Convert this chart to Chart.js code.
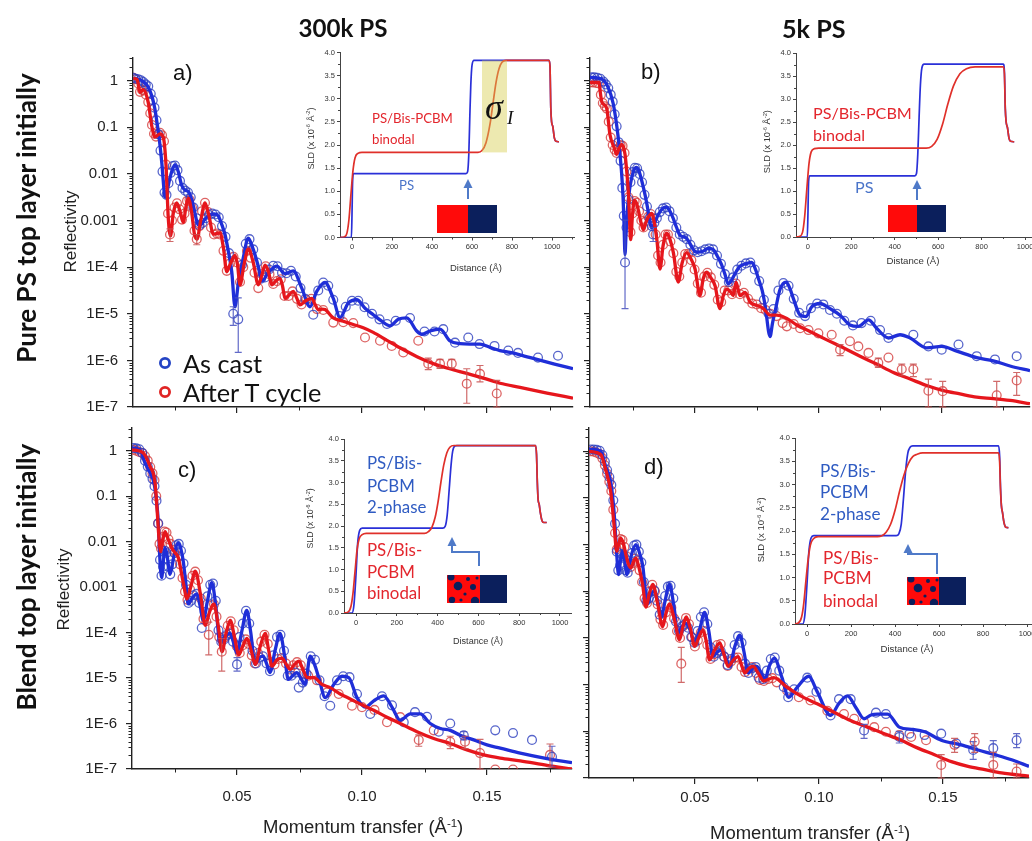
<!DOCTYPE html>
<html><head><meta charset="utf-8">
<script src="https://cdn.jsdelivr.net/npm/chart.js@4.4.1/dist/chart.umd.min.js"></script>
<style>
html,body{margin:0;padding:0;width:1032px;height:841px;overflow:hidden;background:#fff;}
canvas{position:absolute;}
.t{position:absolute;white-space:nowrap;line-height:1;z-index:5;}
.t sup{font-size:0.62em;vertical-align:0.55em;line-height:0;}
</style></head><body>
<svg id="deco" width="1032" height="841" style="position:absolute;left:0;top:0;z-index:4">
 <defs>
  <clipPath id="clipC"><rect x="447" y="575" width="33" height="28"/></clipPath>
  <clipPath id="clipD"><rect x="907" y="577" width="32" height="28"/></clipPath>
 </defs>
 <circle cx="165" cy="363" r="4.6" fill="none" stroke="#2444c4" stroke-width="2.8"/>
 <circle cx="165" cy="392" r="4.6" fill="none" stroke="#e02424" stroke-width="2.8"/>
 <line x1="468" y1="199" x2="468" y2="187" stroke="#4f7ac8" stroke-width="2"/>
 <polygon points="468,179 463.5,188 472.5,188" fill="#4f7ac8"/>
 <rect x="437" y="205" width="31" height="28" fill="#ff0a0a"/>
 <rect x="468" y="205" width="29" height="28" fill="#0b1f5c"/>
 <line x1="917" y1="200" x2="917" y2="188" stroke="#4f7ac8" stroke-width="2"/>
 <polygon points="917,180 912.5,189 921.5,189" fill="#4f7ac8"/>
 <rect x="888" y="205" width="29" height="27" fill="#ff0a0a"/>
 <rect x="917" y="205" width="29" height="27" fill="#0b1f5c"/>
 <polyline points="479,566 479,552 452,552 452,545" fill="none" stroke="#4f7ac8" stroke-width="2"/>
 <polygon points="452,537 447.5,546 456.5,546" fill="#4f7ac8"/>
 <rect x="447" y="575" width="33" height="28" fill="#ff0a0a"/>
 <rect x="480" y="575" width="27" height="28" fill="#0b1f5c"/>
 <g clip-path="url(#clipC)" fill="#0b1f5c">
  <circle cx="451" cy="577" r="3.5"/><circle cx="458" cy="586" r="4.3"/><circle cx="468" cy="579" r="2"/>
  <circle cx="473" cy="587" r="3"/><circle cx="465" cy="594" r="1.6"/><circle cx="477" cy="578" r="1.5"/>
  <circle cx="452" cy="600" r="3.2"/><circle cx="475" cy="601" r="4.2"/><circle cx="461" cy="600" r="1.6"/>
 </g>
 <polyline points="937,574 937,554 908,554 908,552" fill="none" stroke="#4f7ac8" stroke-width="2"/>
 <polygon points="908,544 903.5,553 912.5,553" fill="#4f7ac8"/>
 <rect x="907" y="577" width="32" height="28" fill="#ff0a0a"/>
 <rect x="939" y="577" width="27" height="28" fill="#0b1f5c"/>
 <g clip-path="url(#clipD)" fill="#0b1f5c">
  <circle cx="911" cy="579" r="3.5"/><circle cx="918" cy="588" r="4.3"/><circle cx="928" cy="581" r="2"/>
  <circle cx="933" cy="589" r="3"/><circle cx="925" cy="596" r="1.6"/><circle cx="937" cy="580" r="1.5"/>
  <circle cx="912" cy="602" r="3.2"/><circle cx="934" cy="603" r="4.2"/><circle cx="921" cy="602" r="1.6"/>
 </g>
</svg>
<script>
// ===================== DATA =====================
// Reflectivity curves: [Q (1/Angstrom), log10(Reflectivity)]
const aBlueFit = [[0.0085,0.05],[0.0110,0.02],[0.0125,-0.02],[0.0140,-0.10],[0.0152,-0.22],[0.0163,-0.40],[0.0172,-0.62],[0.0180,-0.90],[0.0189,-1.25],[0.0199,-1.75],[0.0205,-2.15],[0.0210,-2.45],[0.0216,-2.50],[0.0225,-2.25],[0.0239,-1.95],[0.0252,-1.80],[0.0265,-1.95],[0.0279,-2.25],[0.0292,-2.35],[0.0305,-2.38],[0.0319,-2.55],[0.0332,-2.85],[0.0345,-3.10],[0.0358,-3.08],[0.0372,-2.97],[0.0390,-2.88],[0.0410,-2.86],[0.0425,-2.90],[0.0440,-3.10],[0.0452,-3.30],[0.0465,-3.65],[0.0479,-4.10],[0.0492,-4.85],[0.0505,-4.35],[0.0525,-3.80],[0.0545,-3.38],[0.0565,-3.62],[0.0585,-3.98],[0.0600,-4.30],[0.0625,-4.12],[0.0659,-3.98],[0.0692,-4.14],[0.0725,-4.08],[0.0759,-4.45],[0.0792,-4.85],[0.0819,-4.52],[0.0852,-4.33],[0.0885,-4.67],[0.0912,-5.08],[0.0945,-4.77],[0.0979,-4.70],[0.1012,-4.88],[0.1045,-5.02],[0.1079,-5.16],[0.1112,-5.26],[0.1145,-5.12],[0.1179,-5.09],[0.1219,-5.37],[0.1239,-5.44],[0.1272,-5.37],[0.1312,-5.33],[0.1352,-5.58],[0.1392,-5.64],[0.1432,-5.65],[0.1472,-5.65],[0.1512,-5.72],[0.1552,-5.79],[0.1592,-5.83],[0.1632,-5.88],[0.1700,-5.98],[0.1770,-6.08],[0.1844,-6.18]];
const aRedFit = [[0.0085,0.05],[0.0100,0.03],[0.0112,-0.25],[0.0125,-0.19],[0.0145,-0.47],[0.0159,-0.97],[0.0172,-1.21],[0.0192,-1.14],[0.0205,-1.21],[0.0216,-1.81],[0.0225,-2.94],[0.0234,-3.33],[0.0245,-2.85],[0.0259,-2.62],[0.0272,-2.80],[0.0285,-3.04],[0.0296,-2.70],[0.0305,-2.52],[0.0318,-2.80],[0.0330,-3.30],[0.0340,-3.40],[0.0355,-3.00],[0.0372,-2.62],[0.0388,-2.90],[0.0405,-3.29],[0.0420,-3.28],[0.0432,-3.26],[0.0446,-3.60],[0.0459,-4.10],[0.0475,-3.90],[0.0492,-3.75],[0.0502,-3.95],[0.0512,-4.38],[0.0528,-3.95],[0.0545,-3.61],[0.0565,-3.90],[0.0585,-4.38],[0.0598,-4.20],[0.0612,-3.96],[0.0626,-4.10],[0.0639,-4.38],[0.0655,-4.30],[0.0672,-4.24],[0.0682,-4.40],[0.0692,-4.67],[0.0708,-4.60],[0.0725,-4.52],[0.0738,-4.65],[0.0752,-4.81],[0.0775,-4.72],[0.0799,-4.67],[0.0812,-4.80],[0.0825,-4.91],[0.0840,-4.90],[0.0852,-4.91],[0.0885,-5.09],[0.0925,-5.16],[0.0965,-5.23],[0.1005,-5.30],[0.1045,-5.40],[0.1100,-5.57],[0.1152,-5.73],[0.1220,-5.92],[0.1285,-6.07],[0.1350,-6.18],[0.1419,-6.28],[0.1485,-6.38],[0.1552,-6.49],[0.1632,-6.58],[0.1740,-6.70],[0.1844,-6.81]];
const aBlueMeas = [[0.0085,0.06],[0.0095,0.04],[0.0105,0.03],[0.0115,0.01],[0.0125,-0.03],[0.0135,-0.08],[0.0145,-0.12],[0.0155,-0.28],[0.0163,-0.42],[0.0170,-0.58],[0.0178,-0.85],[0.0186,-1.15],[0.0194,-1.50],[0.0202,-1.95],[0.0210,-2.40],[0.0218,-2.45],[0.0226,-2.20],[0.0234,-1.98],[0.0243,-1.83],[0.0252,-1.82],[0.0262,-1.92],[0.0272,-2.15],[0.0282,-2.30],[0.0293,-2.36],[0.0304,-2.40],[0.0315,-2.50],[0.0326,-2.72],[0.0338,-2.95],[0.0350,-3.10],[0.0362,-3.05],[0.0375,-2.95],[0.0388,-2.88],[0.0401,-2.85],[0.0414,-2.87],[0.0427,-2.93],[0.0440,-3.12],[0.0454,-3.35],[0.0468,-3.70],[0.0485,-5.00],[0.0505,-5.12],[0.0520,-3.95],[0.0535,-3.50],[0.0550,-3.40],[0.0565,-3.62],[0.0580,-3.90],[0.0596,-4.25],[0.0612,-4.22],[0.0628,-4.05],[0.0645,-3.97],[0.0662,-3.98],[0.0680,-4.12],[0.0698,-4.13],[0.0716,-4.08],[0.0735,-4.20],[0.0754,-4.45],[0.0773,-4.68],[0.0805,-5.02],[0.0825,-4.50],[0.0845,-4.33],[0.0865,-4.40],[0.0885,-4.70],[0.0910,-5.05],[0.0935,-4.85],[0.0960,-4.72],[0.0985,-4.72],[0.1010,-4.86],[0.1040,-5.00],[0.1070,-5.12],[0.1100,-5.22],[0.1135,-5.15],[0.1192,-5.09],[0.1250,-5.38],[0.1290,-5.38],[0.1325,-5.33],[0.1372,-5.62],[0.1425,-5.51],[0.1470,-5.65],[0.1530,-5.69],[0.1585,-5.79],[0.1624,-5.84],[0.1704,-5.94],[0.1784,-5.90]];
const aRedMeas = [[0.0085,0.06],[0.0095,0.03],[0.0105,-0.06],[0.0112,-0.24],[0.0120,-0.20],[0.0128,-0.21],[0.0136,-0.30],[0.0145,-0.46],[0.0153,-0.70],[0.0160,-0.95],[0.0168,-1.14],[0.0176,-1.20],[0.0184,-1.15],[0.0192,-1.12],[0.0200,-1.17],[0.0208,-1.30],[0.0216,-1.80],[0.0224,-2.85],[0.0232,-3.30],[0.0240,-3.00],[0.0250,-2.72],[0.0260,-2.63],[0.0270,-2.76],[0.0280,-2.98],[0.0290,-2.85],[0.0300,-2.58],[0.0310,-2.55],[0.0320,-2.72],[0.0330,-3.22],[0.0339,-3.40],[0.0350,-3.12],[0.0360,-2.80],[0.0372,-2.62],[0.0384,-2.82],[0.0396,-3.15],[0.0408,-3.30],[0.0420,-3.28],[0.0432,-3.30],[0.0446,-3.65],[0.0459,-4.08],[0.0472,-3.92],[0.0486,-3.78],[0.0500,-3.90],[0.0512,-4.32],[0.0525,-4.00],[0.0540,-3.65],[0.0555,-3.80],[0.0570,-4.12],[0.0585,-4.45],[0.0600,-4.15],[0.0615,-3.98],[0.0630,-4.15],[0.0645,-4.36],[0.0660,-4.30],[0.0675,-4.26],[0.0690,-4.62],[0.0706,-4.62],[0.0722,-4.52],[0.0740,-4.68],[0.0758,-4.80],[0.0777,-4.70],[0.0797,-4.68],[0.0820,-4.90],[0.0845,-4.92],[0.0885,-5.19],[0.0925,-5.18],[0.0965,-5.20],[0.1012,-5.51],[0.1072,-5.58],[0.1119,-5.69],[0.1165,-5.83],[0.1225,-5.58],[0.1265,-6.07],[0.1312,-6.07],[0.1359,-6.07],[0.1419,-6.50],[0.1472,-6.29],[0.1539,-6.71]];
// error bars: [Q, log10 lower, log10 upper]
const aBlueErr = [[0.0485,-5.25,-4.85],[0.0505,-5.83,-4.66]];
const aRedErr = [[0.0232,-3.45,-3.18],[0.0339,-3.52,-3.30],[0.1265,-6.20,-5.95],[0.1312,-6.17,-5.98],[0.1359,-6.17,-5.98],[0.1419,-6.92,-6.18],[0.1472,-6.46,-6.11],[0.1539,-7.00,-6.43]];

const bBlueFit = [[0.0074,0.07],[0.0120,0.04],[0.0147,-0.14],[0.0168,-0.49],[0.0188,-1.20],[0.0201,-1.90],[0.0208,-2.50],[0.0212,-3.09],[0.0216,-3.73],[0.0220,-3.30],[0.0226,-2.75],[0.0234,-2.35],[0.0242,-2.11],[0.0252,-1.92],[0.0262,-1.86],[0.0272,-1.93],[0.0282,-2.11],[0.0293,-2.35],[0.0303,-2.60],[0.0313,-2.90],[0.0323,-3.16],[0.0336,-3.05],[0.0350,-2.88],[0.0367,-2.75],[0.0384,-2.71],[0.0398,-2.80],[0.0411,-2.95],[0.0425,-3.15],[0.0438,-3.31],[0.0452,-3.35],[0.0465,-3.38],[0.0482,-3.52],[0.0499,-3.66],[0.0515,-3.68],[0.0532,-3.66],[0.0552,-3.60],[0.0573,-3.62],[0.0590,-3.76],[0.0607,-3.94],[0.0621,-4.15],[0.0634,-4.36],[0.0648,-4.28],[0.0661,-4.15],[0.0682,-3.98],[0.0705,-3.93],[0.0730,-3.90],[0.0745,-4.05],[0.0757,-4.25],[0.0772,-4.50],[0.0784,-4.82],[0.0804,-5.49],[0.0814,-5.20],[0.0824,-4.96],[0.0845,-4.47],[0.0869,-4.32],[0.0884,-4.45],[0.0899,-4.68],[0.0926,-5.03],[0.0950,-5.06],[0.0973,-4.85],[0.1007,-4.78],[0.1047,-4.89],[0.1088,-5.03],[0.1128,-5.24],[0.1162,-5.27],[0.1203,-5.13],[0.1236,-5.31],[0.1284,-5.52],[0.1331,-5.45],[0.1372,-5.52],[0.1439,-5.73],[0.1500,-5.70],[0.1561,-5.80],[0.1642,-5.94],[0.1709,-6.01],[0.1777,-6.12],[0.1858,-6.22]];
const bRedFit = [[0.0074,-0.04],[0.0110,-0.04],[0.0117,-0.30],[0.0122,-0.46],[0.0132,-0.52],[0.0142,-0.60],[0.0155,-1.16],[0.0172,-1.44],[0.0182,-1.58],[0.0192,-1.45],[0.0203,-1.37],[0.0216,-1.58],[0.0223,-1.95],[0.0230,-2.43],[0.0239,-3.41],[0.0246,-2.90],[0.0253,-2.57],[0.0262,-2.62],[0.0270,-2.78],[0.0281,-3.05],[0.0291,-3.20],[0.0300,-3.05],[0.0308,-2.95],[0.0324,-2.85],[0.0335,-3.05],[0.0345,-3.41],[0.0358,-4.04],[0.0370,-3.55],[0.0385,-3.27],[0.0398,-3.40],[0.0412,-3.69],[0.0432,-4.32],[0.0448,-3.90],[0.0466,-3.69],[0.0483,-3.82],[0.0500,-4.04],[0.0520,-4.61],[0.0533,-4.25],[0.0547,-4.11],[0.0563,-4.22],[0.0581,-4.40],[0.0601,-4.89],[0.0615,-4.60],[0.0628,-4.47],[0.0642,-4.52],[0.0655,-4.61],[0.0666,-4.32],[0.0682,-4.61],[0.0703,-4.54],[0.0723,-4.75],[0.0750,-4.82],[0.0777,-4.89],[0.0804,-5.03],[0.0831,-5.03],[0.0872,-5.10],[0.0912,-5.24],[0.0966,-5.38],[0.1034,-5.56],[0.1101,-5.73],[0.1169,-5.91],[0.1236,-6.08],[0.1304,-6.26],[0.1372,-6.40],[0.1439,-6.54],[0.1507,-6.65],[0.1574,-6.72],[0.1642,-6.79],[0.1709,-6.82],[0.1777,-6.86],[0.1858,-6.93]];
const bBlueMeas = [[0.0080,0.07],[0.0092,0.07],[0.0104,0.06],[0.0116,0.04],[0.0128,-0.02],[0.0138,-0.08],[0.0148,-0.16],[0.0158,-0.30],[0.0166,-0.45],[0.0174,-0.72],[0.0182,-0.98],[0.0190,-1.32],[0.0198,-1.72],[0.0205,-2.30],[0.0211,-2.90],[0.0216,-3.90],[0.0222,-3.15],[0.0230,-2.55],[0.0238,-2.18],[0.0247,-1.96],[0.0256,-1.87],[0.0265,-1.88],[0.0275,-2.00],[0.0285,-2.18],[0.0295,-2.45],[0.0305,-2.70],[0.0315,-2.95],[0.0325,-3.12],[0.0330,-3.30],[0.0335,-3.05],[0.0345,-2.95],[0.0357,-2.82],[0.0370,-2.74],[0.0383,-2.72],[0.0396,-2.80],[0.0410,-2.95],[0.0424,-3.15],[0.0438,-3.30],[0.0452,-3.35],[0.0466,-3.40],[0.0481,-3.52],[0.0496,-3.64],[0.0511,-3.68],[0.0526,-3.66],[0.0541,-3.62],[0.0557,-3.60],[0.0573,-3.62],[0.0589,-3.75],[0.0605,-3.93],[0.0621,-4.15],[0.0637,-4.32],[0.0654,-4.22],[0.0671,-4.05],[0.0688,-3.97],[0.0706,-3.92],[0.0724,-3.90],[0.0742,-4.05],[0.0760,-4.30],[0.0779,-4.70],[0.0798,-5.00],[0.0818,-4.90],[0.0838,-4.50],[0.0858,-4.34],[0.0879,-4.40],[0.0900,-4.68],[0.0922,-4.98],[0.0946,-5.05],[0.0970,-4.88],[0.0995,-4.78],[0.1020,-4.80],[0.1047,-4.92],[0.1075,-5.00],[0.1105,-5.15],[0.1140,-5.25],[0.1175,-5.20],[0.1212,-5.15],[0.1250,-5.35],[0.1284,-5.52],[0.1385,-5.45],[0.1446,-5.70],[0.1500,-5.77],[0.1568,-5.66],[0.1642,-5.91],[0.1716,-5.98],[0.1804,-5.91]];
const bRedMeas = [[0.0074,-0.04],[0.0086,-0.04],[0.0098,-0.05],[0.0110,-0.06],[0.0118,-0.30],[0.0126,-0.48],[0.0134,-0.55],[0.0142,-0.60],[0.0150,-0.88],[0.0158,-1.22],[0.0166,-1.38],[0.0174,-1.48],[0.0182,-1.55],[0.0190,-1.45],[0.0198,-1.38],[0.0206,-1.40],[0.0214,-1.55],[0.0222,-1.95],[0.0230,-2.50],[0.0238,-3.25],[0.0246,-2.85],[0.0255,-2.58],[0.0264,-2.62],[0.0273,-2.80],[0.0282,-3.00],[0.0291,-3.15],[0.0300,-3.02],[0.0310,-2.92],[0.0320,-2.86],[0.0330,-2.95],[0.0340,-3.30],[0.0350,-3.75],[0.0360,-3.90],[0.0370,-3.52],[0.0380,-3.30],[0.0390,-3.30],[0.0400,-3.45],[0.0412,-3.70],[0.0424,-4.10],[0.0436,-4.20],[0.0448,-3.90],[0.0460,-3.72],[0.0472,-3.72],[0.0485,-3.85],[0.0498,-4.05],[0.0511,-4.35],[0.0524,-4.55],[0.0537,-4.20],[0.0550,-4.12],[0.0564,-4.22],[0.0578,-4.38],[0.0592,-4.70],[0.0606,-4.75],[0.0620,-4.50],[0.0635,-4.50],[0.0650,-4.58],[0.0666,-4.35],[0.0682,-4.58],[0.0698,-4.55],[0.0715,-4.68],[0.0732,-4.78],[0.0750,-4.80],[0.0768,-4.88],[0.0786,-4.92],[0.0805,-5.00],[0.0830,-5.05],[0.0855,-5.20],[0.0872,-5.27],[0.0900,-5.22],[0.0926,-5.31],[0.0960,-5.35],[0.1000,-5.42],[0.1054,-5.45],[0.1088,-5.77],[0.1128,-5.59],[0.1162,-5.70],[0.1203,-5.84],[0.1243,-6.05],[0.1284,-5.94],[0.1338,-6.19],[0.1385,-6.19],[0.1446,-6.65],[0.1504,-6.66],[0.1723,-6.75],[0.1804,-6.43]];
const bBlueErr = [[0.0216,-4.89,-2.99],[0.0330,-3.45,-3.15]];
const bRedErr = [[0.1088,-5.90,-5.66],[0.1243,-6.15,-5.95],[0.1338,-6.33,-6.08],[0.1385,-6.35,-6.08],[0.1446,-7.00,-6.40],[0.1504,-7.00,-6.45],[0.1723,-7.00,-6.45],[0.1804,-6.75,-6.26]];

const cBlueFit = [[0.0080,0.06],[0.0112,0.02],[0.0132,-0.27],[0.0152,-0.48],[0.0165,-0.65],[0.0172,-0.84],[0.0180,-1.20],[0.0185,-1.57],[0.0192,-2.43],[0.0199,-2.79],[0.0205,-2.45],[0.0212,-2.14],[0.0220,-2.29],[0.0232,-2.72],[0.0240,-2.55],[0.0248,-2.30],[0.0265,-2.03],[0.0275,-2.15],[0.0285,-2.43],[0.0295,-2.90],[0.0305,-3.37],[0.0320,-3.25],[0.0339,-3.15],[0.0352,-3.40],[0.0365,-3.73],[0.0382,-3.30],[0.0399,-2.90],[0.0415,-3.40],[0.0432,-4.24],[0.0450,-4.10],[0.0472,-4.02],[0.0485,-4.20],[0.0499,-4.45],[0.0520,-3.95],[0.0539,-3.51],[0.0555,-4.00],[0.0572,-4.70],[0.0590,-4.55],[0.0605,-4.52],[0.0618,-4.68],[0.0632,-4.88],[0.0652,-4.40],[0.0672,-4.02],[0.0690,-4.50],[0.0705,-5.03],[0.0722,-4.95],[0.0739,-4.88],[0.0755,-5.00],[0.0772,-5.14],[0.0793,-4.52],[0.0810,-4.70],[0.0827,-4.99],[0.0853,-5.43],[0.0887,-5.14],[0.0920,-4.96],[0.0947,-4.99],[0.0980,-5.43],[0.1013,-5.64],[0.1047,-5.50],[0.1087,-5.39],[0.1120,-5.64],[0.1153,-5.93],[0.1193,-5.79],[0.1233,-5.79],[0.1273,-6.00],[0.1313,-6.11],[0.1353,-6.15],[0.1393,-6.26],[0.1447,-6.36],[0.1500,-6.47],[0.1553,-6.54],[0.1633,-6.65],[0.1740,-6.77],[0.1840,-6.86]];
const cRedFit = [[0.0080,0.02],[0.0125,-0.05],[0.0152,-0.34],[0.0172,-0.70],[0.0181,-1.35],[0.0189,-2.00],[0.0195,-2.22],[0.0203,-1.95],[0.0212,-1.78],[0.0225,-1.95],[0.0240,-2.15],[0.0253,-2.25],[0.0265,-2.35],[0.0285,-2.90],[0.0300,-3.26],[0.0315,-3.00],[0.0333,-2.65],[0.0355,-3.20],[0.0373,-3.84],[0.0390,-3.55],[0.0407,-3.37],[0.0425,-3.85],[0.0440,-4.42],[0.0457,-4.00],[0.0473,-3.73],[0.0490,-4.10],[0.0507,-4.49],[0.0523,-4.30],[0.0540,-4.13],[0.0557,-4.40],[0.0573,-4.70],[0.0593,-4.30],[0.0613,-4.02],[0.0627,-4.40],[0.0640,-4.74],[0.0660,-4.60],[0.0680,-4.56],[0.0697,-4.70],[0.0713,-4.81],[0.0730,-4.70],[0.0747,-4.63],[0.0763,-4.80],[0.0780,-4.99],[0.0807,-4.99],[0.0840,-5.14],[0.0873,-5.21],[0.0913,-5.35],[0.0953,-5.46],[0.0993,-5.57],[0.1047,-5.71],[0.1100,-5.86],[0.1153,-6.00],[0.1220,-6.18],[0.1287,-6.33],[0.1353,-6.44],[0.1420,-6.58],[0.1487,-6.69],[0.1553,-6.76],[0.1633,-6.82],[0.1740,-6.92],[0.1840,-7.00]];
const cBlueMeas = [[0.0085,0.06],[0.0097,0.05],[0.0109,0.03],[0.0121,-0.05],[0.0132,-0.22],[0.0143,-0.35],[0.0153,-0.50],[0.0162,-0.62],[0.0170,-0.78],[0.0178,-1.10],[0.0185,-1.60],[0.0192,-2.40],[0.0198,-2.75],[0.0204,-2.55],[0.0211,-2.20],[0.0218,-2.25],[0.0226,-2.55],[0.0233,-2.72],[0.0241,-2.50],[0.0249,-2.25],[0.0258,-2.08],[0.0267,-2.05],[0.0276,-2.20],[0.0286,-2.48],[0.0296,-2.95],[0.0306,-3.35],[0.0316,-3.30],[0.0327,-3.18],[0.0338,-3.15],[0.0349,-3.35],[0.0359,-3.90],[0.0371,-3.55],[0.0382,-3.20],[0.0393,-2.95],[0.0404,-2.92],[0.0415,-3.30],[0.0426,-3.95],[0.0437,-4.20],[0.0448,-4.15],[0.0460,-4.05],[0.0472,-4.02],[0.0484,-4.20],[0.0500,-4.70],[0.0510,-4.10],[0.0523,-3.80],[0.0536,-3.52],[0.0549,-3.80],[0.0562,-4.40],[0.0576,-4.68],[0.0590,-4.55],[0.0604,-4.52],[0.0618,-4.68],[0.0632,-4.85],[0.0646,-4.50],[0.0660,-4.10],[0.0674,-4.05],[0.0688,-4.40],[0.0703,-4.95],[0.0718,-4.95],[0.0733,-4.88],[0.0747,-5.21],[0.0763,-5.10],[0.0778,-4.90],[0.0795,-4.52],[0.0812,-4.60],[0.0830,-5.05],[0.0850,-5.40],[0.0873,-5.61],[0.0900,-5.05],[0.0925,-4.96],[0.0950,-4.98],[0.0980,-5.35],[0.1033,-5.79],[0.1080,-5.40],[0.1120,-5.60],[0.1167,-5.97],[0.1212,-5.75],[0.1260,-5.85],[0.1307,-6.18],[0.1353,-6.00],[0.1407,-6.26],[0.1533,-6.15],[0.1604,-6.21],[0.1680,-6.36],[0.1760,-6.73]];
const cRedMeas = [[0.0085,0.02],[0.0097,0.00],[0.0109,-0.03],[0.0121,-0.05],[0.0132,-0.12],[0.0143,-0.22],[0.0153,-0.36],[0.0162,-0.50],[0.0170,-0.65],[0.0177,-1.00],[0.0184,-1.60],[0.0190,-2.05],[0.0196,-2.15],[0.0203,-1.90],[0.0210,-1.78],[0.0218,-1.80],[0.0226,-1.95],[0.0234,-2.05],[0.0243,-2.18],[0.0252,-2.25],[0.0262,-2.32],[0.0272,-2.50],[0.0282,-2.80],[0.0292,-3.10],[0.0302,-3.28],[0.0312,-3.05],[0.0322,-2.75],[0.0333,-2.66],[0.0344,-2.85],[0.0355,-3.25],[0.0366,-3.70],[0.0377,-3.75],[0.0387,-4.05],[0.0398,-3.40],[0.0408,-3.38],[0.0418,-3.65],[0.0429,-4.10],[0.0439,-4.42],[0.0452,-4.10],[0.0463,-3.85],[0.0475,-3.75],[0.0487,-3.95],[0.0499,-4.30],[0.0511,-4.45],[0.0523,-4.28],[0.0535,-4.15],[0.0547,-4.25],[0.0559,-4.50],[0.0571,-4.68],[0.0584,-4.45],[0.0597,-4.20],[0.0610,-4.05],[0.0623,-4.25],[0.0636,-4.65],[0.0650,-4.70],[0.0664,-4.58],[0.0680,-4.56],[0.0696,-4.68],[0.0712,-4.81],[0.0725,-4.72],[0.0740,-4.65],[0.0755,-4.72],[0.0770,-4.90],[0.0785,-4.95],[0.0820,-5.05],[0.0860,-5.32],[0.0907,-5.35],[0.0960,-5.61],[0.1000,-5.64],[0.1050,-5.70],[0.1100,-5.97],[0.1153,-5.86],[0.1227,-6.36],[0.1287,-6.15],[0.1353,-6.40],[0.1412,-6.40],[0.1472,-6.65],[0.1533,-7.01],[0.1604,-7.01],[0.1752,-6.69]];
const cBlueErr = [[0.0500,-4.85,-4.55],[0.1407,-6.36,-6.18],[0.1760,-6.95,-6.50]];
const cRedErr = [[0.0387,-4.49,-3.77],[0.0439,-4.85,-4.13],[0.1227,-6.50,-6.25],[0.1353,-6.55,-6.28],[0.1412,-6.55,-6.28],[0.1472,-7.00,-6.35],[0.1752,-6.95,-6.45]];

const dBlueFit = [[0.0073,0.04],[0.0120,0.00],[0.0140,-0.32],[0.0161,-0.67],[0.0174,-1.30],[0.0185,-2.22],[0.0192,-2.64],[0.0200,-2.35],[0.0208,-2.14],[0.0217,-2.35],[0.0226,-2.64],[0.0235,-2.45],[0.0245,-2.20],[0.0262,-2.00],[0.0275,-2.15],[0.0289,-2.43],[0.0309,-3.27],[0.0320,-3.10],[0.0336,-2.99],[0.0350,-3.20],[0.0364,-3.55],[0.0380,-3.20],[0.0397,-2.85],[0.0415,-3.30],[0.0431,-3.90],[0.0448,-3.75],[0.0465,-3.69],[0.0482,-3.85],[0.0499,-4.11],[0.0520,-3.80],[0.0539,-3.45],[0.0556,-3.85],[0.0573,-4.40],[0.0590,-4.30],[0.0607,-4.26],[0.0624,-4.42],[0.0641,-4.61],[0.0660,-4.20],[0.0681,-3.94],[0.0698,-4.30],[0.0715,-4.75],[0.0732,-4.65],[0.0749,-4.61],[0.0765,-4.72],[0.0782,-4.89],[0.0800,-4.60],[0.0820,-4.43],[0.0851,-4.85],[0.0878,-5.27],[0.0912,-5.06],[0.0959,-4.82],[0.0993,-5.15],[0.1047,-5.66],[0.1081,-5.40],[0.1115,-5.24],[0.1150,-5.50],[0.1182,-5.73],[0.1210,-5.65],[0.1236,-5.63],[0.1277,-5.63],[0.1324,-5.91],[0.1380,-5.96],[0.1426,-6.01],[0.1493,-6.19],[0.1574,-6.29],[0.1642,-6.40],[0.1709,-6.50],[0.1777,-6.61],[0.1847,-6.75]];
const dRedFit = [[0.0073,0.00],[0.0120,-0.07],[0.0140,-0.39],[0.0161,-0.88],[0.0174,-1.58],[0.0185,-2.14],[0.0192,-2.00],[0.0201,-1.86],[0.0212,-1.98],[0.0222,-2.22],[0.0232,-2.42],[0.0242,-2.50],[0.0252,-2.38],[0.0262,-2.29],[0.0275,-2.50],[0.0289,-2.85],[0.0303,-3.34],[0.0316,-3.05],[0.0330,-2.85],[0.0350,-3.27],[0.0370,-3.76],[0.0383,-3.48],[0.0397,-3.27],[0.0418,-3.62],[0.0438,-4.04],[0.0452,-3.75],[0.0465,-3.55],[0.0482,-3.80],[0.0499,-4.18],[0.0515,-4.00],[0.0532,-3.83],[0.0545,-4.05],[0.0559,-4.47],[0.0580,-4.25],[0.0600,-4.11],[0.0617,-4.35],[0.0634,-4.61],[0.0654,-4.48],[0.0674,-4.40],[0.0688,-4.58],[0.0701,-4.75],[0.0718,-4.65],[0.0735,-4.61],[0.0756,-4.76],[0.0777,-4.92],[0.0818,-4.85],[0.0872,-5.06],[0.0926,-5.24],[0.0993,-5.41],[0.1061,-5.59],[0.1128,-5.77],[0.1196,-5.91],[0.1264,-6.05],[0.1331,-6.19],[0.1399,-6.36],[0.1466,-6.50],[0.1534,-6.65],[0.1601,-6.75],[0.1669,-6.82],[0.1736,-6.89],[0.1847,-6.96]];
const dBlueMeas = [[0.0080,0.04],[0.0092,0.04],[0.0104,0.03],[0.0116,0.01],[0.0127,-0.08],[0.0137,-0.22],[0.0146,-0.40],[0.0155,-0.55],[0.0163,-0.72],[0.0171,-1.05],[0.0178,-1.55],[0.0185,-2.15],[0.0191,-2.55],[0.0198,-2.45],[0.0205,-2.20],[0.0213,-2.25],[0.0221,-2.55],[0.0229,-2.60],[0.0237,-2.40],[0.0246,-2.18],[0.0255,-2.02],[0.0264,-2.00],[0.0274,-2.15],[0.0284,-2.38],[0.0294,-2.80],[0.0304,-3.20],[0.0314,-3.15],[0.0325,-3.00],[0.0336,-2.98],[0.0347,-3.20],[0.0358,-3.50],[0.0369,-3.45],[0.0380,-3.10],[0.0391,-2.90],[0.0402,-2.88],[0.0413,-3.15],[0.0424,-3.65],[0.0436,-3.85],[0.0448,-3.75],[0.0460,-3.70],[0.0472,-3.78],[0.0485,-3.98],[0.0498,-4.10],[0.0511,-3.85],[0.0524,-3.55],[0.0537,-3.45],[0.0550,-3.70],[0.0563,-4.20],[0.0576,-4.40],[0.0590,-4.32],[0.0604,-4.28],[0.0618,-4.40],[0.0632,-4.58],[0.0646,-4.45],[0.0660,-4.15],[0.0674,-3.96],[0.0688,-4.10],[0.0702,-4.55],[0.0716,-4.75],[0.0730,-4.65],[0.0745,-4.62],[0.0757,-4.85],[0.0775,-4.88],[0.0790,-4.70],[0.0806,-4.45],[0.0822,-4.42],[0.0840,-4.70],[0.0858,-5.05],[0.0876,-5.27],[0.0900,-5.10],[0.0953,-4.85],[0.0990,-5.15],[0.1047,-5.66],[0.1081,-5.31],[0.1128,-5.31],[0.1182,-5.98],[0.1230,-5.60],[0.1270,-5.63],[0.1324,-6.12],[0.1365,-6.05],[0.1426,-6.08],[0.1493,-6.05],[0.1554,-6.26],[0.1622,-6.40],[0.1703,-6.36],[0.1797,-6.19]];
const dRedMeas = [[0.0080,0.00],[0.0092,-0.01],[0.0104,-0.03],[0.0116,-0.06],[0.0127,-0.15],[0.0137,-0.30],[0.0146,-0.48],[0.0155,-0.65],[0.0163,-0.85],[0.0171,-1.25],[0.0178,-1.75],[0.0185,-2.10],[0.0192,-2.05],[0.0200,-1.88],[0.0208,-1.90],[0.0216,-2.05],[0.0224,-2.25],[0.0232,-2.42],[0.0240,-2.48],[0.0249,-2.40],[0.0258,-2.30],[0.0267,-2.35],[0.0277,-2.55],[0.0287,-2.80],[0.0297,-3.15],[0.0307,-3.25],[0.0317,-3.00],[0.0328,-2.86],[0.0339,-3.00],[0.0350,-3.28],[0.0361,-3.60],[0.0372,-3.72],[0.0383,-3.45],[0.0394,-3.28],[0.0405,-3.35],[0.0416,-3.58],[0.0428,-3.85],[0.0440,-4.00],[0.0445,-4.55],[0.0452,-3.75],[0.0464,-3.57],[0.0476,-3.70],[0.0488,-3.98],[0.0500,-4.18],[0.0512,-4.05],[0.0524,-3.88],[0.0537,-3.85],[0.0550,-4.15],[0.0563,-4.45],[0.0576,-4.35],[0.0590,-4.15],[0.0604,-4.13],[0.0618,-4.40],[0.0632,-4.60],[0.0646,-4.50],[0.0660,-4.42],[0.0674,-4.42],[0.0688,-4.62],[0.0702,-4.73],[0.0716,-4.66],[0.0730,-4.62],[0.0746,-4.75],[0.0762,-4.90],[0.0778,-4.92],[0.0795,-4.88],[0.0812,-4.86],[0.0830,-4.95],[0.0872,-5.13],[0.0919,-5.27],[0.0966,-5.34],[0.1034,-5.56],[0.1101,-5.63],[0.1142,-5.73],[0.1182,-5.80],[0.1223,-5.91],[0.1270,-6.01],[0.1324,-6.08],[0.1372,-6.12],[0.1432,-6.19],[0.1493,-6.72],[0.1547,-6.29],[0.1628,-6.22],[0.1703,-6.72],[0.1797,-6.86]];
const dBlueErr = [[0.1182,-6.15,-5.85],[0.1324,-6.25,-6.00],[0.1622,-6.60,-6.22],[0.1703,-6.55,-6.20],[0.1797,-6.35,-6.05]];
const dRedErr = [[0.0445,-4.95,-4.20],[0.1493,-7.00,-6.50],[0.1547,-6.45,-6.15],[0.1628,-6.45,-6.05],[0.1703,-7.00,-6.45],[0.1797,-7.00,-6.70]];

// SLD depth profiles: [distance (Angstrom), SLD (x 1e-6 A^-2)]
const slaBlue = [[-60,0],[-3,0],[0,0.5],[3,1.2],[8,1.38],[570,1.38],[578,1.42],[584,1.8],[589,2.6],[594,3.3],[600,3.72],[610,3.83],[985,3.83],[990,3.7],[994,2.8],[998,2.5],[1004,2.4],[1012,2.15],[1020,2.08],[1035,2.07]];
const slaRed = [[-60,0],[-40,0.01],[-25,0.1],[-15,0.4],[-5,0.95],[5,1.45],[15,1.72],[30,1.82],[50,1.84],[630,1.84],[650,1.88],[670,2.05],[690,2.45],[705,2.9],[720,3.35],[735,3.65],[750,3.79],[770,3.83],[985,3.83],[990,3.7],[994,2.8],[998,2.5],[1004,2.4],[1012,2.15],[1020,2.08],[1035,2.07]];
const slaSigmaBand = [650, 775, 1.84, 3.83]; // sigma_I: z from, z to, SLD from, SLD to
const slbBlue = [[-60,0],[-3,0],[0,0.5],[3,1.2],[8,1.33],[492,1.33],[500,1.38],[506,1.8],[512,2.6],[518,3.3],[525,3.68],[535,3.76],[900,3.76],[905,3.6],[909,2.8],[913,2.5],[919,2.38],[926,2.15],[933,2.08],[950,2.07]];
const slbRed = [[-60,0],[-40,0.01],[-25,0.1],[-15,0.45],[-5,1.05],[5,1.6],[15,1.85],[30,1.92],[50,1.93],[545,1.93],[570,1.97],[595,2.12],[620,2.45],[645,2.9],[670,3.28],[700,3.55],[730,3.66],[770,3.70],[900,3.70],[905,3.55],[909,2.8],[913,2.5],[919,2.38],[926,2.15],[933,2.08],[950,2.07]];
const slcBlue = [[-60,0],[-20,0],[-10,0.2],[0,0.9],[8,1.6],[18,1.9],[30,1.95],[425,1.95],[437,1.99],[447,2.25],[457,2.85],[466,3.4],[474,3.72],[484,3.84],[495,3.85],[880,3.85],[885,3.65],[889,3.0],[893,2.6],[898,2.5],[904,2.3],[912,2.12],[920,2.08],[935,2.08]];
const slcRed = [[-60,0],[-40,0.02],[-25,0.15],[-15,0.45],[-5,0.95],[5,1.45],[15,1.7],[30,1.8],[50,1.83],[335,1.83],[355,1.87],[372,1.97],[388,2.2],[402,2.55],[416,3.0],[430,3.4],[445,3.68],[460,3.81],[480,3.85],[880,3.85],[885,3.65],[889,3.0],[893,2.6],[898,2.5],[904,2.3],[912,2.12],[920,2.08],[935,2.08]];
const sldBlue = [[-60,0],[-20,0],[-10,0.2],[0,0.9],[8,1.55],[18,1.85],[30,1.9],[405,1.9],[417,1.94],[428,2.15],[438,2.7],[448,3.3],[458,3.68],[468,3.8],[480,3.83],[870,3.83],[875,3.62],[879,2.95],[883,2.55],[888,2.4],[895,2.18],[903,2.08],[915,2.07]];
const sldRed = [[-60,0],[-40,0.02],[-25,0.15],[-15,0.45],[-5,0.95],[5,1.4],[15,1.7],[30,1.84],[50,1.88],[320,1.88],[340,1.9],[360,1.98],[380,2.15],[400,2.45],[420,2.85],[440,3.2],[460,3.45],[480,3.6],[500,3.65],[525,3.68],[870,3.68],[875,3.5],[879,2.9],[883,2.55],[888,2.4],[895,2.18],[903,2.08],[915,2.07]];

// Tick values / labels
const mainXTicks = [0.05, 0.10, 0.15];
const mainXMinor = [0.025, 0.075, 0.125, 0.175];
const mainYTicks = [1, 0.1, 0.01, 0.001, 1e-4, 1e-5, 1e-6, 1e-7];
const mainYTickLabels = ['1','0.1','0.01','0.001','1E-4','1E-5','1E-6','1E-7'];
const insetXTicks = [0, 200, 400, 600, 800, 1000];
const insetXMinor = [100, 300, 500, 700, 900, 1100];
const insetYTicks = [0, 0.5, 1, 1.5, 2, 2.5, 3, 3.5, 4];
const insetYMinor = [0.25, 0.75, 1.25, 1.75, 2.25, 2.75, 3.25, 3.75];

// ===================== RENDERING =====================
const SANS = "'Liberation Sans', Arial, sans-serif";
const BLUE_FIT = '#1f2ed8', RED_FIT = '#e6161c';
const BLUE_PT = 'rgba(45,62,190,0.8)', RED_PT = 'rgba(212,56,56,0.78)';
const AX = '#222';

function mkCanvas(b) {
  const c = document.createElement('canvas');
  c.width = b.w; c.height = b.h;
  Object.assign(c.style, {left: b.l + 'px', top: b.t + 'px', width: b.w + 'px', height: b.h + 'px'});
  document.body.appendChild(c);
  return c;
}
function minorTickPlugin(xs, ys, len, color) {
  return { id: 'minorTicks', afterDraw(chart) {
    const ctx = chart.ctx, x = chart.scales.x, y = chart.scales.y, a = chart.chartArea;
    ctx.save(); ctx.strokeStyle = color; ctx.lineWidth = 1; ctx.beginPath();
    xs.forEach(v => { if (v < x.min || v > x.max) return; const p = Math.round(x.getPixelForValue(v)) + 0.5; ctx.moveTo(p, a.bottom); ctx.lineTo(p, a.bottom + len); });
    ys.forEach(v => { if (v < y.min || v > y.max) return; const p = Math.round(y.getPixelForValue(v)) + 0.5; ctx.moveTo(a.left, p); ctx.lineTo(a.left - len, p); });
    ctx.stroke(); ctx.restore();
  }};
}
function errorBarPlugin(sets) {
  return { id: 'errorBars', afterDatasetsDraw(chart) {
    const ctx = chart.ctx, x = chart.scales.x, y = chart.scales.y, a = chart.chartArea;
    ctx.save(); ctx.beginPath(); ctx.rect(a.left, a.top, a.right - a.left, a.bottom - a.top + 1); ctx.clip();
    sets.forEach(s => {
      ctx.strokeStyle = s.color; ctx.lineWidth = 1.2;
      s.bars.forEach(b => {
        const px = x.getPixelForValue(b[0]);
        const lo = y.getPixelForValue(Math.pow(10, b[1])), hi = y.getPixelForValue(Math.pow(10, b[2]));
        ctx.beginPath();
        ctx.moveTo(px, lo); ctx.lineTo(px, hi);
        ctx.moveTo(px - 3.5, lo); ctx.lineTo(px + 3.5, lo);
        ctx.moveTo(px - 3.5, hi); ctx.lineTo(px + 3.5, hi);
        ctx.stroke();
      });
    });
    ctx.restore();
  }};
}
function bandPlugin(band, color) {
  return { id: 'band', afterDatasetsDraw(chart) {
    if (!band) return;
    const ctx = chart.ctx, x = chart.scales.x, y = chart.scales.y;
    const x1 = x.getPixelForValue(band[0]), x2 = x.getPixelForValue(band[1]);
    const y1 = y.getPixelForValue(band[3]), y2 = y.getPixelForValue(band[2]);
    ctx.save(); ctx.fillStyle = color; ctx.fillRect(x1, y1, x2 - x1, y2 - y1); ctx.restore();
  }};
}
const logPts = arr => arr.map(p => ({x: p[0], y: Math.pow(10, p[1])}));
const linPts = arr => arr.map(p => ({x: p[0], y: p[1]}));

function yMinorLog(max) {
  const out = [];
  for (let e = -7; e <= 0; e++) for (let k = 2; k <= 9; k++) { const v = k * Math.pow(10, e); if (v <= max) out.push(v); }
  return out;
}

function mainChart(b, s) {
  const cv = mkCanvas(b);
  new Chart(cv, {
    type: 'scatter',
    data: { datasets: [
      {data: logPts(s.fitR), showLine: true, cubicInterpolationMode: 'monotone', borderColor: RED_FIT, borderWidth: 3.3, pointRadius: 0, order: 1},
      {data: logPts(s.fitB), showLine: true, cubicInterpolationMode: 'monotone', borderColor: BLUE_FIT, borderWidth: 3.3, pointRadius: 0, order: 2},
      {data: logPts(s.measB), showLine: false, pointRadius: 4.4, borderWidth: 1.3, borderColor: BLUE_PT, pointBorderColor: BLUE_PT, backgroundColor: 'rgba(0,0,0,0)', pointBackgroundColor: 'rgba(0,0,0,0)', order: 3},
      {data: logPts(s.measR), showLine: false, pointRadius: 4.4, borderWidth: 1.3, borderColor: RED_PT, pointBorderColor: RED_PT, backgroundColor: 'rgba(0,0,0,0)', pointBackgroundColor: 'rgba(0,0,0,0)', order: 4}
    ]},
    options: {
      responsive: false, animation: false, events: [],
      layout: {autoPadding: false, padding: {top: b.pt, right: b.pr, left: 0, bottom: 0}},
      plugins: {legend: {display: false}, tooltip: {enabled: false}},
      scales: {
        x: {type: 'linear', min: s.xr[0], max: s.xr[1],
          afterBuildTicks: sc => { sc.ticks = mainXTicks.map(v => ({value: v})); },
          afterFit: sc => { sc.height = b.xh; },
          ticks: {autoSkip: false, maxRotation: 0, padding: b.xpad, color: AX, font: {family: SANS, size: 15},
            callback: v => s.xLabels ? Number(v).toFixed(2) : ''},
          grid: {drawOnChartArea: false, drawTicks: true, tickLength: 6, color: AX, lineWidth: 1.2},
          border: {color: AX, width: 1.4}},
        y: {type: 'logarithmic', min: 1e-7, max: s.yMax,
          afterBuildTicks: sc => { sc.ticks = mainYTicks.map(v => ({value: v})); },
          afterFit: sc => { sc.width = b.yw; },
          ticks: {autoSkip: false, padding: 9, color: AX, font: {family: SANS, size: 15},
            callback: v => { if (!s.yLabels) return ''; const i = mainYTicks.findIndex(t => Math.abs(Math.log10(t) - Math.log10(v)) < 1e-6); return i >= 0 ? mainYTickLabels[i] : ''; }},
          grid: {drawOnChartArea: false, drawTicks: true, tickLength: 6, color: AX, lineWidth: 1.2},
          border: {color: AX, width: 1.4}}
      }
    },
    plugins: [minorTickPlugin(mainXMinor, yMinorLog(s.yMax), 3.5, AX),
      errorBarPlugin([{color: 'rgba(70,80,190,0.85)', bars: s.errB}, {color: 'rgba(200,80,80,0.85)', bars: s.errR}])]
  });
}

function insetChart(b, s) {
  const cv = mkCanvas(b);
  new Chart(cv, {
    type: 'scatter',
    data: { datasets: [
      {data: linPts(s.red), showLine: true, cubicInterpolationMode: 'monotone', borderColor: '#e0302a', borderWidth: 1.7, pointRadius: 0, order: 1},
      {data: linPts(s.blue), showLine: true, cubicInterpolationMode: 'monotone', borderColor: '#2a30d8', borderWidth: 1.7, pointRadius: 0, order: 2}
    ]},
    options: {
      responsive: false, animation: false, events: [],
      layout: {autoPadding: false, padding: {top: b.pt, right: b.pr, left: 0, bottom: 0}},
      plugins: {legend: {display: false}, tooltip: {enabled: false}},
      scales: {
        x: {type: 'linear', min: s.xr[0], max: s.xr[1],
          afterBuildTicks: sc => { sc.ticks = insetXTicks.map(v => ({value: v})); },
          afterFit: sc => { sc.height = b.xh; },
          ticks: {autoSkip: false, maxRotation: 0, padding: 2, color: '#333', font: {family: SANS, size: 7.5}, callback: v => String(v)},
          grid: {drawOnChartArea: false, drawTicks: true, tickLength: 3, color: '#444', lineWidth: 1},
          border: {color: '#444', width: 1}},
        y: {type: 'linear', min: 0, max: 4,
          afterBuildTicks: sc => { sc.ticks = insetYTicks.map(v => ({value: v})); },
          afterFit: sc => { sc.width = b.yw; },
          ticks: {autoSkip: false, padding: 2, color: '#333', font: {family: SANS, size: 7.5}, callback: v => Number(v).toFixed(1)},
          grid: {drawOnChartArea: false, drawTicks: true, tickLength: 3, color: '#444', lineWidth: 1},
          border: {color: '#444', width: 1}}
      }
    },
    plugins: [minorTickPlugin(insetXMinor, insetYMinor, 2, '#444'), bandPlugin(s.band, 'rgba(214,206,80,0.45)')]
  });
}

mainChart({l: 0, t: 40, w: 580, h: 385, pt: 13, pr: 7, yw: 133, xh: 17, xpad: 10},
  {xr: [0.0084, 0.1844], yMax: 3.06, fitB: aBlueFit, fitR: aRedFit, measB: aBlueMeas, measR: aRedMeas, errB: aBlueErr, errR: aRedErr, yLabels: true, xLabels: false});
mainChart({l: 580, t: 40, w: 452, h: 385, pt: 12, pr: 2, yw: 10, xh: 18, xpad: 10},
  {xr: [0.0074, 0.1858], yMax: 3.06, fitB: bBlueFit, fitR: bRedFit, measB: bBlueMeas, measR: bRedMeas, errB: bBlueErr, errR: bRedErr, yLabels: false, xLabels: false});
mainChart({l: 0, t: 410, w: 580, h: 431, pt: 13, pr: 8, yw: 132, xh: 72, xpad: 13},
  {xr: [0.0080, 0.1840], yMax: 3.15, fitB: cBlueFit, fitR: cRedFit, measB: cBlueMeas, measR: cRedMeas, errB: cBlueErr, errR: cRedErr, yLabels: true, xLabels: true});
mainChart({l: 580, t: 410, w: 452, h: 431, pt: 13, pr: 3, yw: 9, xh: 63, xpad: 5},
  {xr: [0.0073, 0.1847], yMax: 3.16, fitB: dBlueFit, fitR: dRedFit, measB: dBlueMeas, measR: dRedMeas, errB: dBlueErr, errR: dRedErr, yLabels: false, xLabels: true});

insetChart({l: 300, t: 45, w: 275, h: 235, pt: 7.5, pr: 0, yw: 40, xh: 42.5}, {xr: [-60, 1115], blue: slaBlue, red: slaRed, band: slaSigmaBand});
insetChart({l: 750, t: 45, w: 310, h: 235, pt: 8, pr: 10, yw: 46, xh: 43}, {xr: [-55, 1115], blue: slbBlue, red: slbRed, band: null});
insetChart({l: 300, t: 430, w: 272, h: 225, pt: 9, pr: 0, yw: 44, xh: 42}, {xr: [-59, 1059], blue: slcBlue, red: slcRed, band: null});
insetChart({l: 750, t: 430, w: 310, h: 235, pt: 8, pr: 10, yw: 45, xh: 41}, {xr: [-55, 1104], blue: sldBlue, red: sldRed, band: null});

// ===================== TEXT =====================
function label(html, o) {
  const d = document.createElement('div');
  d.className = 't';
  d.innerHTML = html;
  d.style.fontFamily = o.family || SANS;
  d.style.fontWeight = o.weight || 'normal';
  d.style.fontStyle = o.style || 'normal';
  d.style.color = o.color || '#111';
  let fs = o.size || 16;
  d.style.fontSize = fs + 'px';
  document.body.appendChild(d);
  if (o.fit) { fs = fs * o.fit / d.offsetWidth; d.style.fontSize = fs + 'px'; }
  const w = d.offsetWidth, h = d.offsetHeight;
  const cx = (o.cx !== undefined) ? o.cx : o.left + w / 2;
  d.style.left = (cx - w / 2) + 'px';
  d.style.top = (o.cy - h / 2) + 'px';
  if (o.rot) d.style.transform = 'rotate(' + o.rot + 'deg)';
  return fs;
}
const CAL = "Lato, 'Open Sans', sans-serif";
const LRED = '#e3262d', LBLUE = '#2f5bc2', PSBLUE = '#4a74c9';

label('300k PS', {family: CAL, weight: 'bold', fit: 89, cx: 343, cy: 28, color: '#111'});
label('5k PS', {family: CAL, weight: 'bold', fit: 63, cx: 814, cy: 28, color: '#111'});
label('Pure PS top layer initially', {family: CAL, weight: 'bold', fit: 290, cx: 25, cy: 218, rot: -90, color: '#111'});
label('Blend top layer initially', {family: CAL, weight: 'bold', fit: 267, cx: 26, cy: 577, rot: -90, color: '#111'});
label('Reflectivity', {size: 17, cx: 70, cy: 231, rot: -90, color: '#222'});
label('Reflectivity', {size: 17, cx: 63, cy: 589, rot: -90, color: '#222'});
label('a)', {size: 22, cx: 183, cy: 73, color: '#111'});
label('b)', {size: 22, cx: 651, cy: 72, color: '#111'});
label('c)', {size: 22, cx: 187, cy: 470, color: '#111'});
label('d)', {size: 22, cx: 654, cy: 467, color: '#111'});
label('Momentum transfer (Å<sup>-1</sup>)', {fit: 200, cx: 363, cy: 827, color: '#222'});
label('Momentum transfer (Å<sup>-1</sup>)', {fit: 200, cx: 810, cy: 833, color: '#222'});
const lfs = label('After T cycle', {family: CAL, fit: 139, left: 183, cy: 392, color: '#111'});
label('As cast', {family: CAL, size: lfs, left: 183, cy: 363, color: '#111'});

let fs = label('PS/Bis-PCBM', {family: CAL, fit: 81, left: 372, cy: 118, color: LRED});
label('binodal', {family: CAL, size: fs, left: 372, cy: 139, color: LRED});
label('PS', {family: CAL, size: fs, left: 399, cy: 185, color: PSBLUE});
label('σ', {family: "'Liberation Serif', 'DejaVu Serif', serif", style: 'italic', size: 36, cx: 494, cy: 107, color: '#111'});
label('I', {family: "'Liberation Serif', 'DejaVu Serif', serif", style: 'italic', size: 19, cx: 510, cy: 117, color: '#111'});
fs = label('PS/Bis-PCBM', {family: CAL, fit: 99, left: 813, cy: 113, color: LRED});
label('binodal', {family: CAL, size: fs, left: 813, cy: 135, color: LRED});
label('PS', {family: CAL, size: fs, left: 855, cy: 187, color: PSBLUE});
fs = label('2-phase', {family: CAL, fit: 59, left: 367, cy: 507, color: LBLUE});
label('PS/Bis-', {family: CAL, size: fs, left: 367, cy: 463, color: LBLUE});
label('PCBM', {family: CAL, size: fs, left: 367, cy: 486, color: LBLUE});
label('PS/Bis-', {family: CAL, size: fs, left: 367, cy: 550, color: LRED});
label('PCBM', {family: CAL, size: fs, left: 367, cy: 572, color: LRED});
label('binodal', {family: CAL, size: fs, left: 367, cy: 593, color: LRED});
fs = label('2-phase', {family: CAL, fit: 60, left: 820, cy: 513, color: LBLUE});
label('PS/Bis-', {family: CAL, size: fs, left: 820, cy: 470, color: LBLUE});
label('PCBM', {family: CAL, size: fs, left: 820, cy: 491, color: LBLUE});
label('PS/Bis-', {family: CAL, size: fs, left: 823, cy: 557, color: LRED});
label('PCBM', {family: CAL, size: fs, left: 823, cy: 577, color: LRED});
label('binodal', {family: CAL, size: fs, left: 823, cy: 600, color: LRED});
const SLDT = 'SLD (x 10<sup>-6</sup> Å<sup>-2</sup>)';
label(SLDT, {fit: 62, cx: 311, cy: 138, rot: -90, color: '#333'});
label(SLDT, {fit: 63, cx: 767, cy: 141, rot: -90, color: '#333'});
label(SLDT, {fit: 60, cx: 310, cy: 518, rot: -90, color: '#333'});
label(SLDT, {fit: 65, cx: 760, cy: 530, rot: -90, color: '#333'});
label('Distance (Å)', {fit: 52, cx: 476, cy: 267, color: '#333'});
label('Distance (Å)', {fit: 53, cx: 913, cy: 261, color: '#333'});
label('Distance (Å)', {fit: 50, cx: 478, cy: 641, color: '#333'});
label('Distance (Å)', {fit: 53, cx: 907, cy: 649, color: '#333'});
</script>
</body></html>
